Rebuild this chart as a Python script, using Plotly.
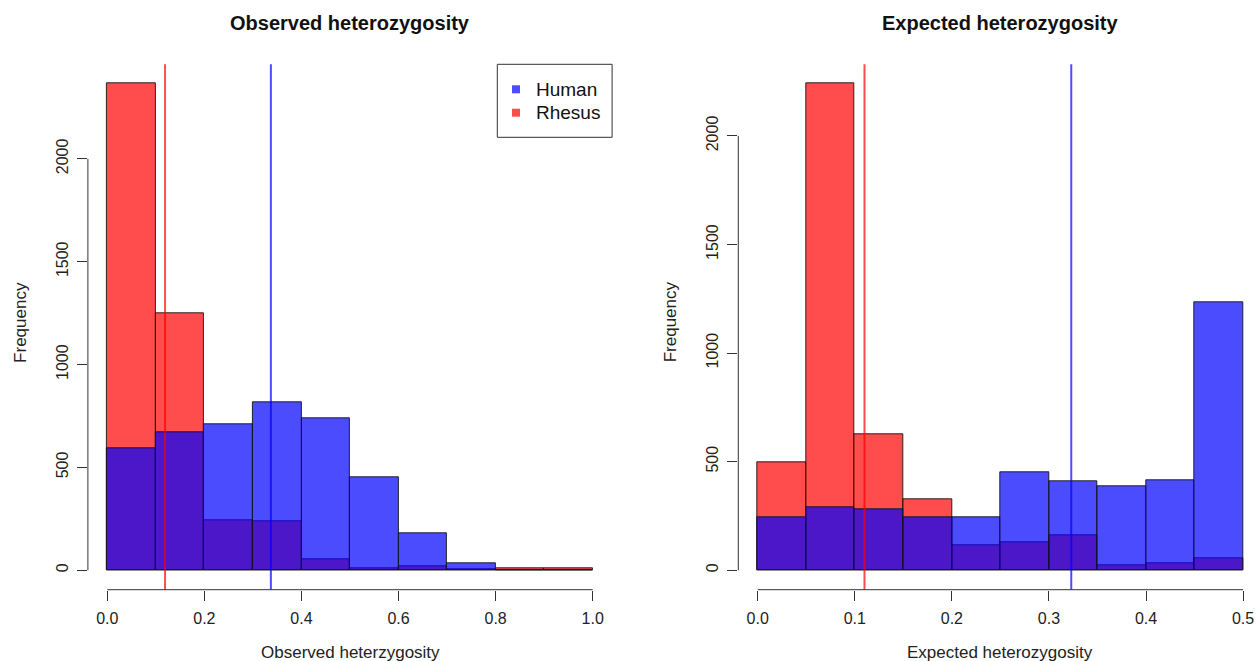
import plotly.graph_objects as go

# ---------------- data ----------------
obs_edges = [0.0, 0.1, 0.2, 0.3, 0.4, 0.5, 0.6, 0.7, 0.8, 0.9, 1.0]
obs_human = [594, 669, 711, 818, 737, 453, 179, 36, 2, 1]
obs_rhesus = [2365, 1248, 242, 239, 51, 8, 21, 5, 10, 10]
obs_mean_human = 0.337
obs_mean_rhesus = 0.119

exp_edges = [0.0, 0.05, 0.1, 0.15, 0.2, 0.25, 0.3, 0.35, 0.4, 0.45, 0.5]
exp_human = [246, 291, 280, 244, 246, 451, 411, 388, 412, 1233]
exp_rhesus = [495, 2240, 627, 326, 114, 129, 159, 25, 34, 53]
exp_mean_human = 0.323
exp_mean_rhesus = 0.110

obs_xticks = [0.0, 0.2, 0.4, 0.6, 0.8, 1.0]
exp_xticks = [0.0, 0.1, 0.2, 0.3, 0.4, 0.5]
yticks = [0, 500, 1000, 1500, 2000]

titles = ["Observed heterozygosity", "Expected heterozygosity"]
xlabels = ["Observed heterzygosity", "Expected heterozygosity"]
ylabel = "Frequency"
series_names = ["Human", "Rhesus"]

# ---------------- style ----------------
W, H = 1256, 661
FONT = "Liberation Sans, Arial, Helvetica, sans-serif"
BLUE = "rgba(0,0,255,0.7)"
RED = "rgba(255,0,0,0.7)"
EDGE = "rgba(20,20,20,0.9)"
AX = "#333333"

# pixel geometry of plot regions
L_LEFT, L_RIGHT = 87.9, 612.1
R_LEFT = 738.3
P_TOP, P_BOT = 64.3, 589.7
plot_w = L_RIGHT - L_LEFT

fig = go.Figure()


def centers(edges):
    return [(a + b) / 2 for a, b in zip(edges[:-1], edges[1:])]


def widths(edges):
    return [b - a for a, b in zip(edges[:-1], edges[1:])]


panels = [
    (obs_edges, obs_human, obs_rhesus, obs_mean_human, obs_mean_rhesus, "x", "y", obs_xticks),
    (exp_edges, exp_human, exp_rhesus, exp_mean_human, exp_mean_rhesus, "x2", "y2", exp_xticks),
]

for edges, hum, rhe, mh, mr, xa, ya, xt in panels:
    c = centers(edges)
    w = widths(edges)
    fig.add_trace(go.Bar(x=c, y=rhe, width=w, xaxis=xa, yaxis=ya, name="Rhesus",
                         marker=dict(color=RED, line=dict(color=EDGE, width=1)),
                         showlegend=False))
    fig.add_trace(go.Bar(x=c, y=hum, width=w, xaxis=xa, yaxis=ya, name="Human",
                         marker=dict(color=BLUE, line=dict(color=EDGE, width=1)),
                         showlegend=False))
    # mean lines
    for m, col in [(mr, RED), (mh, BLUE)]:
        fig.add_shape(type="line", xref=xa, yref=f"{ya} domain", x0=m, x1=m, y0=0, y1=1,
                      line=dict(color=col, width=2), layer="above")
    # axis lines spanning first..last tick (R style)
    fig.add_shape(type="line", xref=xa, yref=f"{ya} domain", x0=xt[0], x1=xt[-1], y0=0, y1=0,
                  line=dict(color=AX, width=1))
    fig.add_shape(type="line", xref=f"{xa} domain", yref=ya, x0=0, x1=0, y0=yticks[0], y1=yticks[-1],
                  line=dict(color=AX, width=1))

obs_ymax = max(obs_human + obs_rhesus)
exp_ymax = max(exp_human + exp_rhesus)
obs_span = obs_edges[-1] - obs_edges[0]
obs_xr = [obs_edges[0] - 0.04 * obs_span, obs_edges[-1] + 0.04 * obs_span]
exp_span = exp_edges[-1] - exp_edges[0]
exp_full = [exp_edges[0] - 0.04 * exp_span, exp_edges[-1] + 0.04 * exp_span]
# right panel is cropped at figure edge
vis_frac = (W - R_LEFT) / plot_w
exp_xr = [exp_full[0], exp_full[0] + (exp_full[1] - exp_full[0]) * vis_frac]

ydom = [1 - P_BOT / H, 1 - P_TOP / H]

common_x = dict(showgrid=False, zeroline=False, showline=False, ticks="outside", ticklen=10,
                tickwidth=1, tickcolor=AX, tickfont=dict(family=FONT, size=16, color="#222"),
                tickformat=".1f", automargin=False, ticklabelstandoff=4)
common_y = dict(showgrid=False, zeroline=False, showline=False, ticks="outside", ticklen=10,
                tickwidth=1, tickcolor=AX, tickfont=dict(family=FONT, size=16, color="#222"),
                tickangle=-90, tickvals=yticks, automargin=False, ticklabelstandoff=3)

fig.update_layout(
    width=W, height=H,
    margin=dict(l=0, r=0, t=0, b=0),
    paper_bgcolor="white", plot_bgcolor="white",
    barmode="overlay", bargap=0,
    showlegend=False,
    xaxis=dict(domain=[L_LEFT / W, L_RIGHT / W], range=obs_xr, tickvals=obs_xticks, anchor="y", **common_x),
    yaxis=dict(domain=ydom, range=[-0.04 * obs_ymax, 1.04 * obs_ymax], anchor="x", **common_y),
    xaxis2=dict(domain=[R_LEFT / W, 1.0], range=exp_xr, tickvals=exp_xticks, anchor="y2", **common_x),
    yaxis2=dict(domain=ydom, range=[-0.04 * exp_ymax, 1.04 * exp_ymax], anchor="x2", **common_y),
)

# titles & axis labels
ann = []
for i, (xl, xr_) in enumerate([(L_LEFT, L_RIGHT), (R_LEFT, R_LEFT + plot_w)]):
    cx = (xl + xr_) / 2 / W
    ann.append(dict(text=f"<b>{titles[i]}</b>", x=cx, y=1 - 23 / H, xref="paper", yref="paper",
                    showarrow=False, xanchor="center", yanchor="middle",
                    font=dict(family=FONT, size=20, color="#111")))
    ann.append(dict(text=xlabels[i], x=cx, y=1 - 652 / H, xref="paper", yref="paper",
                    showarrow=False, xanchor="center", yanchor="middle",
                    font=dict(family=FONT, size=17, color="#222")))
    ann.append(dict(text=ylabel, x=(xl - 68) / W, y=1 - 322 / H, xref="paper", yref="paper",
                    showarrow=False, xanchor="center", yanchor="middle", textangle=-90,
                    font=dict(family=FONT, size=17, color="#222")))

# legend (left panel, top-right corner)
fig.add_shape(type="rect", xref="x domain", yref="y domain",
              x0=(497.3 - L_LEFT) / plot_w, x1=1.0, y0=(P_BOT - 137.3) / (P_BOT - P_TOP), y1=1.0,
              line=dict(color=AX, width=1), fillcolor="white", layer="above")
for name, col, py in [(series_names[0], BLUE, 89.3), (series_names[1], RED, 112.7)]:
    cxd = (516 - L_LEFT) / plot_w
    cyd = (P_BOT - py) / (P_BOT - P_TOP)
    hx = 4 / plot_w
    hy = 4 / (P_BOT - P_TOP)
    fig.add_shape(type="rect", xref="x domain", yref="y domain",
                  x0=cxd - hx, x1=cxd + hx, y0=cyd - hy, y1=cyd + hy,
                  line=dict(width=0), fillcolor=col, layer="above")
    ann.append(dict(text=name, x=(534 - L_LEFT) / plot_w, y=cyd, xref="x domain", yref="y domain",
                    showarrow=False, xanchor="left", yanchor="middle",
                    font=dict(family=FONT, size=19, color="#111")))

fig.update_layout(annotations=ann)
fig.write_html("out.html", config={"displayModeBar": False},
               post_script="document.body.style.margin='0';document.body.style.overflow='hidden';")
